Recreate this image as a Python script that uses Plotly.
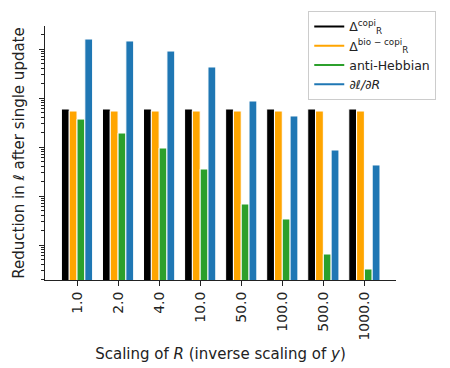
import plotly.graph_objects as go
import numpy as np

categories = ["1.0", "2.0", "4.0", "10.0", "50.0", "100.0", "500.0", "1000.0"]
copi = [0.00597, 0.00597, 0.00597, 0.00597, 0.00597, 0.00597, 0.00597, 0.00597]
bio_copi = [0.00543, 0.00543, 0.00543, 0.00543, 0.00543, 0.00543, 0.00543, 0.00543]
anti_hebbian = [0.00372, 0.00193, 0.000955, 0.000356, 6.87e-5, 3.40e-5, 6.55e-6, 3.24e-6]
gradient = [0.160, 0.146, 0.0910, 0.0430, 0.00869, 0.00430, 0.000869, 0.000430]

names = ["Δ<sup>copi</sup><sub>R</sub>", "Δ<sup>bio − copi</sup><sub>R</sub>", "anti-Hebbian", "<i>∂ℓ/∂R</i>"]
colors = ["#000000", "#FFA500", "#2ca02c", "#1f77b4"]
series = [copi, bio_copi, anti_hebbian, gradient]

fig = go.Figure()
for s, c in zip(series, colors):
    fig.add_trace(go.Bar(x=categories, y=s, marker=dict(color=c, line=dict(color="white", width=1)),
                         showlegend=False))
for n, c in zip(names, colors):
    fig.add_trace(go.Scatter(x=[None], y=[None], mode="lines", line=dict(color=c, width=2), name=n))

major = [10.0 ** k for k in range(-6, 1)]
minor = [m * 10.0 ** k for k in range(-6, 0) for m in range(2, 10)]

fig.update_layout(
    width=450, height=368,
    margin=dict(l=37, r=62, t=18, b=96, autoexpand=False),
    plot_bgcolor="white", paper_bgcolor="white",
    barmode="group", bargap=0.24, bargroupgap=0,
    font=dict(family="DejaVu Sans", size=14, color="#222"),
    legend=dict(x=0.75, y=1.06, xanchor="left", yanchor="top", bgcolor="white",
                bordercolor="#cccccc", borderwidth=1, font=dict(size=12.5),
                tracegroupgap=4, itemwidth=30),
    xaxis=dict(title=dict(text="Scaling of <i>R</i> (inverse scaling of <i>y</i>)", font=dict(size=15), standoff=8),
               tickangle=-90, ticks="outside", ticklen=5, tickcolor="#222",
               showline=True, linecolor="#222", linewidth=1, range=[-0.78, 7.77],
               tickfont=dict(size=14)),
    yaxis=dict(title=dict(text="Reduction in <i>ℓ</i> after single update", font=dict(size=15), standoff=10),
               type="log", range=[-5.714, -0.53], showticklabels=False,
               tickmode="array", tickvals=major, ticks="outside", ticklen=5, tickcolor="#222",
               showline=True, linecolor="#222", linewidth=1, showgrid=False, zeroline=False,
               minor=dict(tickmode="array", tickvals=minor, ticks="outside", ticklen=3, tickcolor="#222", showgrid=False)),
)

fig.write_html("out.html")
